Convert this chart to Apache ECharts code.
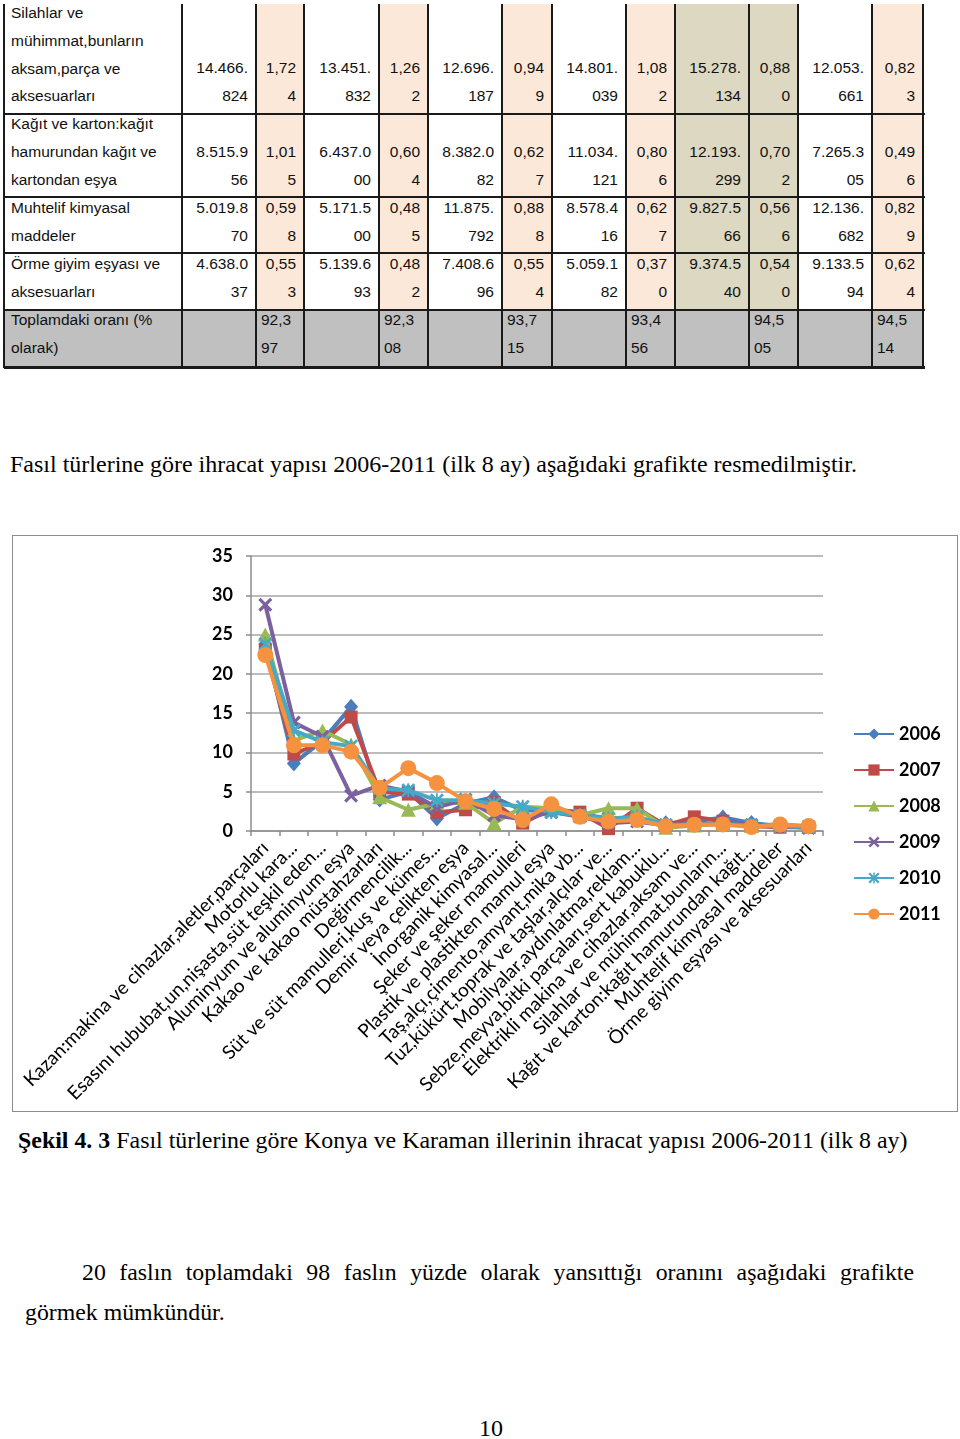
<!DOCTYPE html>
<html>
<head>
<meta charset="utf-8">
<script src="https://cdn.jsdelivr.net/npm/echarts@6/dist/echarts.min.js"></script>
<style>
  html, body { margin: 0; padding: 0; background: #fff; }
  #page { position: relative; width: 960px; height: 1439px; overflow: hidden; background: #fff; }
  .abs { position: absolute; }
  .cell { position: absolute; font-family: 'Liberation Sans', Arial, sans-serif; font-size: 15.5px; line-height: 27.7px; color: #111; white-space: nowrap; }
  .serif { font-family: 'Liberation Serif', 'Times New Roman', serif; color: #000; white-space: nowrap; }
</style>
</head>
<body>
<div id="page">
  <div id="table"></div>
  <div class="abs serif" style="left:10px; top:449px; font-size:24px; line-height:30px;">Fasıl türlerine göre ihracat yapısı 2006-2011 (ilk 8 ay) aşağıdaki grafikte resmedilmiştir.</div>
  <div class="abs" style="left:12px; top:535px; width:944px; height:575px; border:1.5px solid #8c8c8c;"></div>
  <div id="chart" class="abs" style="left:13px; top:536px; width:944px; height:575px;"></div>
  <div class="abs serif" style="left:18px; top:1125px; font-size:23.9px; line-height:30px;"><b>Şekil 4. 3</b> Fasıl türlerine göre Konya ve Karaman illerinin ihracat yapısı 2006-2011 (ilk 8 ay)</div>
  <div class="abs serif" style="left:25px; top:1252px; width:889px; font-size:23.8px; line-height:40px; text-align:justify; text-align-last:left; text-indent:57px; white-space:normal;">20 faslın toplamdaki 98 faslın yüzde olarak yansıttığı oranını aşağıdaki grafikte görmek mümkündür.</div>
  <div class="abs serif" style="left:479px; top:1413px; font-size:24px; line-height:30px;">10</div>
</div>
<script>
// ---------- Chart data ----------
const categories = [
  'Kazan:makina ve cihazlar,aletler,parçaları',
  'Motorlu kara...',
  'Esasını hububat,un,nişasta,süt teşkil eden...',
  'Aluminyum ve aluminyum eşya',
  'Kakao ve kakao müstahzarları',
  'Değirmencilik...',
  'Süt ve süt mamulleri,kuş ve kümes...',
  'Demir veya çelikten eşya',
  'İnorganik kimyasal...',
  'Şeker ve şeker mamulleri',
  'Plastik ve plastikten mamul eşya',
  'Taş,alçı,çimento,amyant,mika vb...',
  'Tuz,kükürt,toprak ve taşlar,alçılar ve...',
  'Mobilyalar,aydınlatma,reklam...',
  'Sebze,meyva,bitki parçaları,sert kabuklu...',
  'Elektrikli makina ve cihazlar,aksam ve...',
  'Silahlar ve mühimmat,bunların...',
  'Kağıt ve karton:kağıt hamurundan kağıt...',
  'Muhtelif kimyasal maddeler',
  'Örme giyim eşyası ve aksesuarları'
];
const years = ['2006', '2007', '2008', '2009', '2010', '2011'];
const s2006 = [23.8, 8.6, 11.5, 15.8, 4.0, 5.0, 1.6, 3.5, 4.3, 2.6, 2.6, 2.2, 1.6, 1.6, 1.0, 1.2, 1.724, 1.015, 0.598, 0.553];
const s2007 = [23.0, 9.8, 11.3, 14.5, 5.0, 4.7, 2.4, 2.7, 3.6, 1.0, 2.8, 2.4, 0.3, 2.9, 0.7, 1.8, 1.262, 0.604, 0.485, 0.482];
const s2008 = [25.0, 11.5, 12.8, 11.0, 4.3, 2.7, 3.5, 3.6, 1.0, 3.1, 2.9, 2.0, 2.9, 2.9, 0.4, 0.7, 0.949, 0.627, 0.888, 0.554];
const s2009 = [28.8, 13.8, 12.0, 4.5, 5.8, 5.0, 3.0, 4.0, 2.0, 1.5, 2.4, 1.8, 1.0, 1.2, 0.7, 0.8, 1.082, 0.806, 0.627, 0.370];
const s2010 = [23.8, 12.8, 11.3, 10.8, 5.4, 5.2, 3.9, 3.9, 3.5, 3.1, 2.4, 2.0, 1.6, 1.8, 0.8, 0.8, 0.880, 0.702, 0.566, 0.540];
const s2011 = [22.4, 10.9, 10.9, 10.1, 5.5, 8.0, 6.1, 3.8, 2.8, 1.4, 3.4, 1.8, 1.2, 1.4, 0.6, 0.8, 0.823, 0.496, 0.829, 0.624];
const yTicks = [0, 5, 10, 15, 20, 25, 30, 35];

// ---------- Table data ----------
const rowLabels = [
  ['Silahlar ve', 'mühimmat,bunların', 'aksam,parça ve', 'aksesuarları'],
  ['Kağıt ve karton:kağıt', 'hamurundan kağıt ve', 'kartondan eşya'],
  ['Muhtelif kimyasal', 'maddeler'],
  ['Örme giyim eşyası ve', 'aksesuarları'],
  ['Toplamdaki oranı (%', 'olarak)']
];
const rowSilahlar = [['14.466.','824'],['1,72','4'],['13.451.','832'],['1,26','2'],['12.696.','187'],['0,94','9'],['14.801.','039'],['1,08','2'],['15.278.','134'],['0,88','0'],['12.053.','661'],['0,82','3']];
const rowKagit = [['8.515.9','56'],['1,01','5'],['6.437.0','00'],['0,60','4'],['8.382.0','82'],['0,62','7'],['11.034.','121'],['0,80','6'],['12.193.','299'],['0,70','2'],['7.265.3','05'],['0,49','6']];
const rowMuhtelif = [['5.019.8','70'],['0,59','8'],['5.171.5','00'],['0,48','5'],['11.875.','792'],['0,88','8'],['8.578.4','16'],['0,62','7'],['9.827.5','66'],['0,56','6'],['12.136.','682'],['0,82','9']];
const rowOrme = [['4.638.0','37'],['0,55','3'],['5.139.6','93'],['0,48','2'],['7.408.6','96'],['0,55','4'],['5.059.1','82'],['0,37','0'],['9.374.5','40'],['0,54','0'],['9.133.5','94'],['0,62','4']];
const rowToplam = [[],['92,3','97'],[],['92,3','08'],[],['93,7','15'],[],['93,4','56'],[],['94,5','05'],[],['94,5','14']];
const tableValues = [rowSilahlar, rowKagit, rowMuhtelif, rowOrme, rowToplam];

// ---------- Table layout ----------
(function buildTable() {
  const t = document.getElementById('table');
  const colX = [4, 182, 256, 304, 379, 428, 502, 552, 626, 675, 749, 798, 872, 923];
  const rowY = [4, 114, 197, 253, 310, 367];
  const labelFirst = [13, 124, 208, 264, 320];
  const valFirst = [68, 152, 208, 264, 320];
  const LH = 27.7;
  function box(l, tp, w, h, bg) {
    const d = document.createElement('div');
    d.className = 'abs';
    d.style.cssText = `left:${l}px;top:${tp}px;width:${w}px;height:${h}px;background:${bg};`;
    t.appendChild(d);
  }
  for (let c = 1; c <= 12; c++) {
    let bg = null;
    if (c % 2 === 0) bg = '#fce8d8';
    if (c === 9 || c === 10) bg = '#dcd8c2';
    if (bg) box(colX[c], rowY[0], colX[c + 1] - colX[c], rowY[4] - rowY[0], bg);
  }
  box(colX[0], rowY[4], colX[13] - colX[0], rowY[5] - rowY[4], '#c0c0c0');
  const hw = [1.5, 1.5, 1.5, 2.5, 3];
  for (let r = 1; r < rowY.length; r++) box(colX[0], rowY[r] - hw[r - 1] / 2, colX[13] - colX[0] + 2, hw[r - 1], '#1a1a1a');
  for (let c = 0; c < colX.length; c++) {
    const w = (c % 2 === 0 || c === 1) ? 2.5 : 1.5;
    box(colX[c] - w / 2, rowY[0], w, rowY[5] - rowY[0] + 1, '#1a1a1a');
  }
  function text(lines, l, tp, w, align) {
    const d = document.createElement('div');
    d.className = 'cell';
    d.style.left = l + 'px';
    d.style.top = (tp - LH / 2) + 'px';
    d.style.width = w + 'px';
    d.style.textAlign = align;
    d.innerHTML = lines.join('<br>');
    t.appendChild(d);
  }
  for (let r = 0; r < 5; r++) {
    text(rowLabels[r], colX[0] + 7, labelFirst[r], 170, 'left');
    const vals = tableValues[r];
    for (let c = 0; c < 12; c++) {
      if (!vals[c].length) continue;
      const l = colX[c + 1], w = colX[c + 2] - colX[c + 1];
      if (r === 4) text(vals[c], l + 5, valFirst[r], w - 5, 'left');
      else text(vals[c], l, valFirst[r], w - 8, 'right');
    }
  }
})();

// ---------- Chart ----------
const colors = ['#4a7ebb', '#be4b48', '#98b954', '#7d60a0', '#46aac5', '#f59240'];
const symX = 'path://M0,1.6L1.6,0L5,3.4L8.4,0L10,1.6L6.6,5L10,8.4L8.4,10L5,6.6L1.6,10L0,8.4L3.4,5Z';
const symStar = 'path://M0,1.4L1.4,0L5,3.6L8.6,0L10,1.4L6.4,5L10,8.6L8.6,10L5,6.4L1.4,10L0,8.6L3.6,5Z M4.35,0L5.65,0L5.65,10L4.35,10Z';
const symbols = ['diamond', 'rect', 'triangle', symX, symStar, 'circle'];
const symbolSizes = [[14, 16], 13, [15, 14], 14, 14, 16];
const seriesData = [s2006, s2007, s2008, s2009, s2010, s2011];

const chart = echarts.init(document.getElementById('chart'), null, { renderer: 'canvas' });
chart.setOption({
  animation: false,
  color: colors,
  grid: { left: 238, top: 20, width: 572, height: 275, containLabel: false },
  legend: {
    orient: 'vertical',
    left: 835,
    top: 184,
    itemWidth: 40,
    itemHeight: 14,
    itemGap: 18,
    data: years,
    textStyle: { fontFamily: 'Lato, "Open Sans", sans-serif', fontWeight: 'bold', fontSize: 18, color: '#000' }
  },
  xAxis: {
    type: 'category',
    data: categories,
    boundaryGap: true,
    axisLine: { lineStyle: { color: '#8c8c8c', width: 1.5 } },
    axisTick: { show: true, interval: 0, length: 5, lineStyle: { color: '#8c8c8c', width: 1.5 } },
    axisLabel: {
      interval: 0,
      rotate: 45,
      margin: 14,
      fontFamily: 'Lato, "Open Sans", sans-serif',
      fontSize: 19,
      color: '#000'
    }
  },
  yAxis: {
    type: 'value',
    min: 0,
    max: 35,
    interval: 5,
    axisLine: { show: true, lineStyle: { color: '#8c8c8c', width: 1.5 } },
    axisTick: { show: true, length: 5, lineStyle: { color: '#8c8c8c', width: 1.5 } },
    splitLine: { lineStyle: { color: '#a6a6a6', width: 1.5 } },
    axisLabel: {
      margin: 18,
      fontFamily: 'Lato, "Open Sans", sans-serif',
      fontWeight: 'bold',
      fontSize: 18,
      color: '#000',
      formatter: v => yTicks.indexOf(v) >= 0 ? String(v) : ''
    }
  },
  series: years.map((y, i) => ({
    name: y,
    type: 'line',
    data: seriesData[i],
    symbol: symbols[i],
    symbolSize: symbolSizes[i],
    showAllSymbol: true,
    lineStyle: { width: 4, color: colors[i] },
    itemStyle: { color: colors[i] },
    z: 2 + i
  }))
});
</script>
</body>
</html>
